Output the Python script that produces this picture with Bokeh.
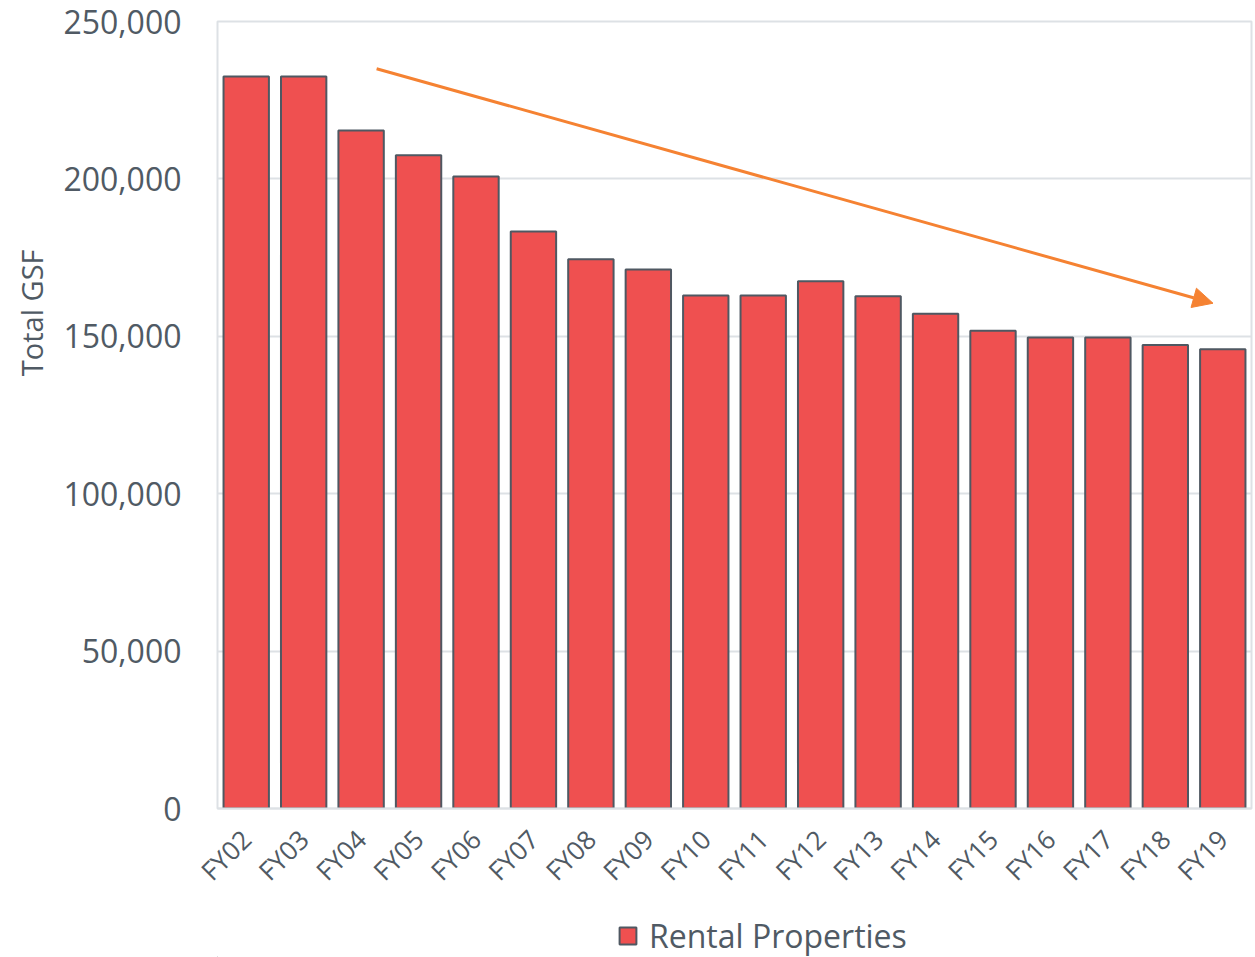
from math import pi

from bokeh.embed import file_html
from bokeh.layouts import column
from bokeh.models import (Arrow, FactorRange, Legend, LegendItem, NormalHead,
                          NumeralTickFormatter, Range1d, SingleIntervalTicker, Title)
from bokeh.plotting import figure
from bokeh.resources import INLINE

# Rental properties, total gross square feet by fiscal year
years = ["FY02", "FY03", "FY04", "FY05", "FY06", "FY07", "FY08", "FY09", "FY10",
         "FY11", "FY12", "FY13", "FY14", "FY15", "FY16", "FY17", "FY18", "FY19"]
total_gsf = [232500, 232500, 215400, 207500, 200800, 183300, 174500, 171200, 163000,
             163000, 167500, 162700, 157200, 151800, 149600, 149600, 147200, 145900]
series_name = "Rental Properties"
y_label = "Total GSF"

# Trend arrow (category coordinates, GSF)
trend_start = (2.77, 235000)
trend_end = (17.33, 160500)

FONT = "Open Sans"
TEXT = "#505a64"
GRID = "#dde1e5"
BAR = "#ef5050"
EDGE = "#4f5862"
ORANGE = "#f58232"

p = figure(width=1255, height=905, output_backend="svg", toolbar_location=None,
           x_range=FactorRange(factors=years, range_padding=0),
           y_range=Range1d(0, 250000),
           min_border_left=217, min_border_right=4, min_border_top=21,
           min_border_bottom=97)

bar_style = dict(fill_color=BAR, line_color=EDGE, line_width=2)
p.vbar(x=years, top=total_gsf, width=0.79, **bar_style)

p.background_fill_color = "white"
p.border_fill_color = "white"
p.outline_line_color = GRID
p.outline_line_width = 2

p.xgrid.grid_line_color = None
p.ygrid.grid_line_color = GRID
p.ygrid.grid_line_width = 2

p.yaxis.ticker = SingleIntervalTicker(interval=50000)
p.yaxis.formatter = NumeralTickFormatter(format="0,0")
p.yaxis.axis_line_color = None
p.yaxis.major_tick_line_color = None
p.yaxis.minor_tick_line_color = None
p.yaxis.major_tick_out = 0
p.yaxis.major_label_standoff = 32
p.yaxis.major_label_text_font = FONT
p.yaxis.major_label_text_font_size = "32px"
p.yaxis.major_label_text_color = TEXT

p.xaxis.axis_line_color = GRID
p.xaxis.axis_line_width = 2
p.xaxis.major_tick_line_color = None
p.xaxis.major_tick_out = 0
p.xaxis.major_label_orientation = pi / 4
p.xaxis.major_label_standoff = 26
p.xaxis.major_label_text_font = FONT
p.xaxis.major_label_text_font_size = "26px"
p.xaxis.major_label_text_color = TEXT

# Vertical axis title, placed left of the tick labels and above centre
p.add_layout(Title(text=y_label, align="right", offset=228, standoff=19,
                   text_font=FONT, text_font_size="29px",
                   text_font_style="normal", text_color=TEXT), "left")

# Downward trend arrow
p.add_layout(Arrow(x_start=trend_start[0], y_start=trend_start[1],
                   x_end=trend_end[0], y_end=trend_end[1],
                   line_color=ORANGE, line_width=3,
                   end=NormalHead(size=20, fill_color=ORANGE, line_color=ORANGE)))

# Legend strip beneath the chart; its swatch renderer is a zero-size bar
# outside the visible range, so only the legend entry shows
key = figure(width=1255, height=52, output_backend="svg", toolbar_location=None,
             x_range=Range1d(0, 1), y_range=Range1d(0, 1),
             min_border=0, x_axis_type=None, y_axis_type=None)
key.outline_line_color = None
key.grid.grid_line_color = None
swatch = key.vbar(x=[-5], bottom=[-5], top=[-5], width=0, **bar_style)

legend = Legend(items=[LegendItem(label=series_name, renderers=[swatch])],
                location=(400, 0), orientation="horizontal",
                glyph_width=21, glyph_height=21, label_standoff=11,
                label_text_font=FONT, label_text_font_size="32px",
                label_text_color=TEXT, border_line_color=None,
                background_fill_alpha=0, padding=0, margin=0, spacing=0)
key.add_layout(legend)

layout = column(p, key, spacing=0)
open("out.html", "w").write(file_html(layout, INLINE))
